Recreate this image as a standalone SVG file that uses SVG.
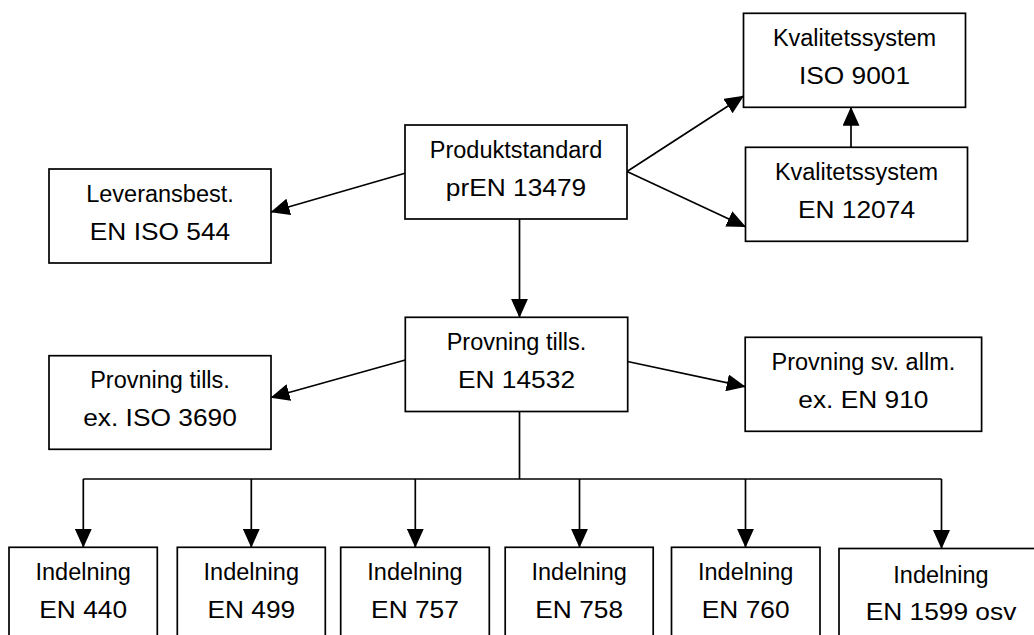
<svg xmlns="http://www.w3.org/2000/svg" width="1034" height="635" viewBox="0 0 1034 635">
<style>
.box{fill:#fff;stroke:#000;stroke-width:1.7}
.t1{font-family:"Liberation Sans",Arial,sans-serif;font-size:23.5px;text-anchor:middle;fill:#000}
.t2{font-family:"Liberation Sans",Arial,sans-serif;font-size:23.5px;text-anchor:middle;fill:#000}
.c{fill:none;stroke:#000;stroke-width:1.7}
</style>
<defs>
<marker id="ah" markerUnits="userSpaceOnUse" markerWidth="19" markerHeight="17" viewBox="0 0 19 17" refX="18.5" refY="8.5" orient="auto">
<path d="M0,0 L19,8.5 L0,17 Z" fill="#000"/>
</marker>
</defs>
<rect width="1034" height="635" fill="#fff"/>
<g id="connectors">
<line class="c" x1="405" y1="173.3" x2="271" y2="212" marker-end="url(#ah)"/>
<line class="c" x1="627" y1="171.5" x2="743.5" y2="96" marker-end="url(#ah)"/>
<line class="c" x1="627" y1="171.5" x2="745.5" y2="226.7" marker-end="url(#ah)"/>
<line class="c" x1="851" y1="147.3" x2="851" y2="107.3" marker-end="url(#ah)"/>
<line class="c" x1="519.5" y1="219" x2="519.5" y2="317.3" marker-end="url(#ah)"/>
<line class="c" x1="405.3" y1="360" x2="271" y2="397.5" marker-end="url(#ah)"/>
<line class="c" x1="627.5" y1="361.5" x2="745.2" y2="386.7" marker-end="url(#ah)"/>
<polyline class="c" points="519.5,411.5 519.5,479"/>
<polyline class="c" points="83.3,479 941.5,479"/>
<line class="c" x1="83.3" y1="479" x2="83.3" y2="547.3" marker-end="url(#ah)"/>
<line class="c" x1="251.3" y1="479" x2="251.3" y2="547.3" marker-end="url(#ah)"/>
<line class="c" x1="415.3" y1="479" x2="415.3" y2="547.3" marker-end="url(#ah)"/>
<line class="c" x1="579.5" y1="479" x2="579.5" y2="547.3" marker-end="url(#ah)"/>
<line class="c" x1="745.5" y1="479" x2="745.5" y2="547.3" marker-end="url(#ah)"/>
<line class="c" x1="941.5" y1="479" x2="941.5" y2="548.5" marker-end="url(#ah)"/>
</g>
<g id="produktstandard">
<rect class="box" x="405" y="125" width="222" height="94"/>
<text class="t1" x="516" y="157.7">Produktstandard</text>
<text class="t2" transform="translate(516 196) scale(1.12 1)">prEN 13479</text>
</g>
<g id="iso9001">
<rect class="box" x="743.5" y="13.3" width="222" height="94"/>
<text class="t1" x="854.5" y="46">Kvalitetssystem</text>
<text class="t2" transform="translate(854.5 84) scale(1.12 1)">ISO 9001</text>
</g>
<g id="en12074">
<rect class="box" x="745.5" y="147.3" width="222" height="94"/>
<text class="t1" x="856.5" y="180">Kvalitetssystem</text>
<text class="t2" transform="translate(856.5 218.3) scale(1.12 1)">EN 12074</text>
</g>
<g id="leveransbest">
<rect class="box" x="49" y="169" width="222" height="94"/>
<text class="t1" x="160" y="202">Leveransbest.</text>
<text class="t2" transform="translate(160 240) scale(1.12 1)">EN ISO 544</text>
</g>
<g id="en14532">
<rect class="box" x="405.3" y="317.3" width="222.4" height="94.2"/>
<text class="t1" x="516.5" y="350">Provning tills.</text>
<text class="t2" transform="translate(516.5 388.3) scale(1.12 1)">EN 14532</text>
</g>
<g id="iso3690">
<rect class="box" x="49" y="355.7" width="222" height="93.6"/>
<text class="t1" x="160" y="388.3">Provning tills.</text>
<text class="t2" transform="translate(160 426) scale(1.12 1)">ex. ISO 3690</text>
</g>
<g id="en910">
<rect class="box" x="745.2" y="337.3" width="236.4" height="94"/>
<text class="t1" x="863.4" y="370">Provning sv. allm.</text>
<text class="t2" transform="translate(863.4 408.3) scale(1.12 1)">ex. EN 910</text>
</g>
<g id="en440">
<rect class="box" x="9" y="547.3" width="148.3" height="120"/>
<text class="t1" x="83.2" y="580">Indelning</text>
<text class="t2" transform="translate(83.2 618.3) scale(1.12 1)">EN 440</text>
</g>
<g id="en499">
<rect class="box" x="177.3" y="547.3" width="148" height="120"/>
<text class="t1" x="251.3" y="580">Indelning</text>
<text class="t2" transform="translate(251.3 618.3) scale(1.12 1)">EN 499</text>
</g>
<g id="en757">
<rect class="box" x="340.7" y="547.3" width="148.6" height="120"/>
<text class="t1" x="415" y="580">Indelning</text>
<text class="t2" transform="translate(415 618.3) scale(1.12 1)">EN 757</text>
</g>
<g id="en758">
<rect class="box" x="505.2" y="547.3" width="148" height="120"/>
<text class="t1" x="579.2" y="580">Indelning</text>
<text class="t2" transform="translate(579.2 618.3) scale(1.12 1)">EN 758</text>
</g>
<g id="en760">
<rect class="box" x="671.5" y="547.3" width="148.5" height="120"/>
<text class="t1" x="745.7" y="580">Indelning</text>
<text class="t2" transform="translate(745.7 618.3) scale(1.12 1)">EN 760</text>
</g>
<g id="en1599">
<rect class="box" x="839" y="548.5" width="204" height="120"/>
<text class="t1" x="941" y="582.5">Indelning</text>
<text class="t2" transform="translate(941 620) scale(1.12 1)">EN 1599 osv</text>
</g>
</svg>
